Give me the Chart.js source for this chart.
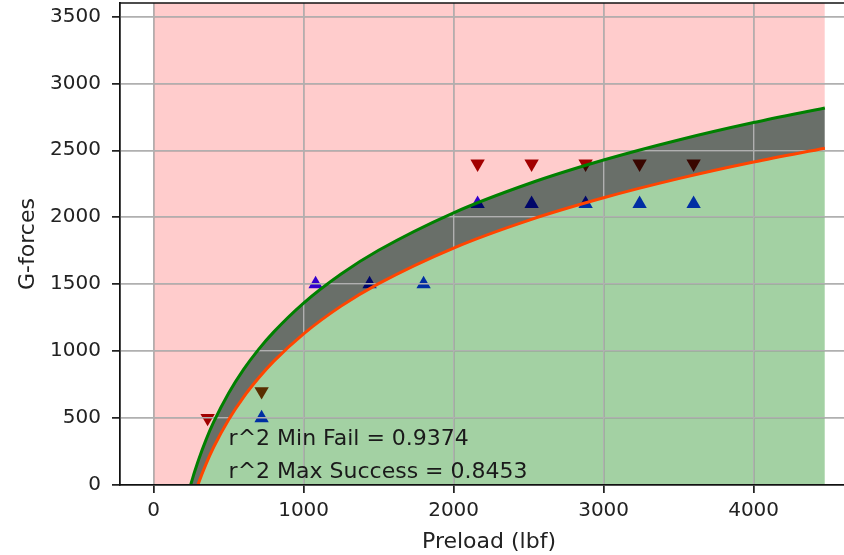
<!DOCTYPE html>
<html>
<head>
<meta charset="utf-8">
<script src="https://cdn.jsdelivr.net/npm/chart.js@4.4.1/dist/chart.umd.min.js"></script>
<style>
  html, body { margin: 0; padding: 0; background: #fff; overflow: hidden; }
  canvas { display: block; }
</style>
</head>
<body>
<canvas id="chart" width="870" height="555"></canvas>
<script>
// Shock test runs: preload (lbf) against the G level reached
const failPreload = [360, 720, 2160, 2520, 2880, 3240, 3600];
const failG       = [500, 700, 2400, 2400, 2400, 2400, 2400];
const passPreload = [720, 1080, 1440, 1800, 2160, 2520, 2880, 3240, 3600];
const passG       = [500, 1500, 1500, 1500, 2100, 2100, 2100, 2100, 2100];

// Logarithmic trend of the lowest failures
const minFailX = [247, 260, 275, 300, 350, 400, 500, 600, 700, 800, 1000, 1250, 1500, 2000, 2500, 3000, 3500, 4000, 4475];
const minFailY = [0, 50, 104, 189, 339, 469, 685, 863, 1013, 1142, 1359, 1576, 1753, 2033, 2250, 2427, 2577, 2707, 2816];
// Logarithmic trend of the highest successes
const maxPassX = [295, 300, 350, 400, 500, 600, 700, 800, 1000, 1250, 1500, 2000, 2500, 3000, 3500, 4000, 4475];
const maxPassY = [0, 16, 158, 282, 488, 657, 799, 923, 1129, 1336, 1504, 1770, 1977, 2145, 2288, 2412, 2515];

// Fit quality notes, placed in data units
const fitNotes = ['r^2 Min Fail = 0.9374', 'r^2 Max Success = 0.8453'];
const noteX = [500, 500];
const noteY = [300, 50];

const xTicks = [0, 1000, 2000, 3000, 4000];
const yTicks = [0, 500, 1000, 1500, 2000, 2500, 3000, 3500];

const pts = (xs, ys) => xs.map((x, i) => ({ x: x, y: ys[i] }));
const failCurve = pts(minFailX, minFailY);
const passCurve = pts(maxPassX, maxPassY);
const failZone = [{ x: 0, y: 0 }].concat(failCurve);
const passZone = [{ x: minFailX[0], y: 0 }].concat(passCurve);

const tickFont = { family: 'DejaVu Sans', size: 20, lineHeight: 1.2 };
const labelFont = { family: 'DejaVu Sans', size: 22, lineHeight: 1.2 };
const ink = '#222';

// Grid sits above the shaded zones but below the trend lines; frame and notes on top
const overlay = {
  id: 'overlay',
  afterDatasetDraw(chart, args) {
    if (chart.data.datasets[args.index].regrid) {
      chart.scales.x.drawGrid(chart.chartArea);
      chart.scales.y.drawGrid(chart.chartArea);
    }
  },
  afterDatasetsDraw(chart) {
    const { ctx, chartArea: a, scales: { x, y } } = chart;
    x.drawBorder();
    y.drawBorder();
    ctx.save();
    ctx.strokeStyle = '#111';
    ctx.lineWidth = 1.5;
    ctx.beginPath();
    ctx.moveTo(a.left, a.top);
    ctx.lineTo(a.right, a.top);
    ctx.stroke();
    ctx.font = '22px "DejaVu Sans"';
    ctx.fillStyle = '#1a1a1a';
    ctx.textAlign = 'left';
    ctx.textBaseline = 'alphabetic';
    fitNotes.forEach((t, i) => ctx.fillText(t, x.getPixelForValue(noteX[i]), y.getPixelForValue(noteY[i])));
    ctx.restore();
  }
};

const zone = (data, fill, color, order, extra) => Object.assign({
  data: data, fill: fill, backgroundColor: color, borderColor: 'transparent', borderWidth: 0,
  pointRadius: 0, cubicInterpolationMode: 'monotone', order: order
}, extra || {});

new Chart(document.getElementById('chart'), {
  type: 'line',
  data: {
    datasets: [
      { label: 'Fail', data: pts(failPreload, failG), showLine: false, pointStyle: 'triangle',
        pointRotation: 180, pointRadius: 8.3, pointBorderWidth: 0, pointBackgroundColor: '#8b0000', order: 9 },
      { label: 'Success', data: pts(passPreload, passG), showLine: false, pointStyle: 'triangle',
        pointRadius: 8.3, pointBorderWidth: 0, pointBackgroundColor: '#0000ff', order: 9 },
      zone(failZone, 'end', 'rgba(255,0,0,0.2)', 8),
      zone(failCurve, 4, 'rgba(0,10,0,0.59)', 7),
      zone(passZone, 'origin', 'rgba(0,128,0,0.36)', 6, { regrid: true }),
      { label: 'Min Fail', data: failCurve, borderColor: '#008000', borderWidth: 3, pointRadius: 0,
        fill: false, cubicInterpolationMode: 'monotone', order: 2 },
      { label: 'Max Success', data: passCurve, borderColor: '#ff4500', borderWidth: 3, pointRadius: 0,
        fill: false, cubicInterpolationMode: 'monotone', order: 1 }
    ]
  },
  options: {
    responsive: false,
    animation: false,
    devicePixelRatio: 1,
    layout: { autoPadding: false, padding: { top: 3, right: 12, left: 0, bottom: 0 } },
    plugins: { legend: { display: false }, tooltip: { enabled: false } },
    scales: {
      x: {
        type: 'linear', min: -224, max: 4696,
        afterBuildTicks: s => { s.ticks = xTicks.map(v => ({ value: v })); },
        afterFit: s => { s.height = 70; s.paddingLeft = 0; s.paddingRight = 0; },
        ticks: { font: tickFont, color: ink, padding: 6, maxRotation: 0, callback: v => String(v) },
        grid: { color: '#b0b0b0', lineWidth: 1.5, tickLength: 8, tickColor: ink, tickWidth: 1.5 },
        border: { color: '#111', width: 1.5 },
        title: { display: true, text: 'Preload (lbf)', font: labelFont, color: ink, padding: { top: 0, bottom: 0 } }
      },
      y: {
        type: 'linear', min: 0, max: 3600,
        afterBuildTicks: s => { s.ticks = yTicks.map(v => ({ value: v })); },
        afterFit: s => { s.width = 120; s.paddingTop = 0; s.paddingBottom = 0; },
        ticks: { font: tickFont, color: ink, padding: 11, callback: v => String(v) },
        grid: { color: '#b0b0b0', lineWidth: 1.5, tickLength: 8, tickColor: ink, tickWidth: 1.5 },
        border: { color: '#111', width: 1.5 },
        title: { display: true, text: 'G-forces', font: labelFont, color: ink, padding: { top: 15, bottom: 0 } }
      }
    }
  },
  plugins: [overlay]
});
</script>
</body>
</html>
